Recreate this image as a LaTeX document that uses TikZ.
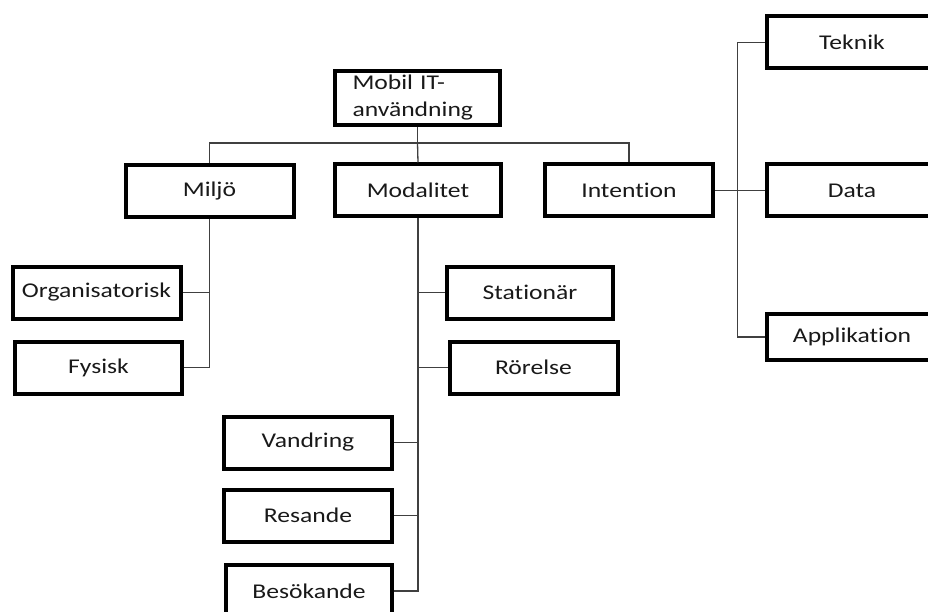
\documentclass[tikz,border=0pt]{standalone}
\usepackage{fontspec}
\setmainfont{Carlito}[FakeStretch=1.22, Ligatures=NoCommon]
\usepackage{tikz}
\usetikzlibrary{positioning}

\begin{document}
\begin{tikzpicture}[x=1pt,y=-1pt,
    box/.style={draw=black, line width=4pt, minimum width=168pt, minimum height=52pt,
      inner sep=0pt, text=black!90, font=\fontsize{21}{27}\selectfont},
    link/.style={draw=black!75, line width=1.3pt}]
  \useasboundingbox (0,0) rectangle (928,612);
  \clip (0,0) rectangle (928,612);
  % top level
  \node[box, minimum width=165pt, minimum height=54pt, align=left, text width=130pt] (mobil) at (417.5,98) {Mobil IT-\\användning};
  \node[box] (miljo) at (209.5,191) {Miljö};
  \node[box, minimum width=166pt] (modal) at (418,190.5) {Modalitet};
  \node[box] (intent) at (629,190.5) {Intention};
  % Miljö
  \node[box] (org) at (96.5,292.5) {Organisatorisk};
  \node[box, minimum width=167pt] (fysisk) at (98.5,367.5) {Fysisk};
  % Modalitet
  \node[box, minimum width=166pt] (station) at (530,292.5) {Stationär};
  \node[box] (rorelse) at (533.5,367.5) {Rörelse};
  \node[box] (vandring) at (308,442.5) {Vandring};
  \node[box] (resande) at (308,515.5) {Resande};
  \node[box, minimum width=166pt] (besok) at (309,591) {Besökande};
  % Intention
  \node[box, minimum width=171pt] (teknik) at (852,42.5) {Teknik};
  \node[box, minimum width=171pt] (data) at (852,190.5) {Data};
  \node[box, minimum width=171pt, minimum height=46pt] (appl) at (852,337) {Applikation};
  % connectors
  \coordinate (bus) at (mobil.south |- 0,143);
  \draw[link] (mobil.south) -- (bus);
  \draw[link] (miljo.north) |- (bus) -| (intent.north);
  \draw[link] (bus) -- (modal.north);
  \draw[link] (miljo.south) |- (fysisk.east);
  \draw[link] (org.east) -- (org.east -| miljo.south);
  \draw[link] (modal.south) |- (besok.east);
  \draw[link] (station.west) -- (station.west -| modal.south);
  \draw[link] (rorelse.west) -- (rorelse.west -| modal.south);
  \draw[link] (vandring.east) -- (vandring.east -| modal.south);
  \draw[link] (resande.east) -- (resande.east -| modal.south);
  \draw[link] (intent.east) -- (data.west);
  \coordinate (rail) at ([xshift=-27pt]teknik.west);
  \draw[link] (teknik.west) -- (rail) |- (appl.west);
\end{tikzpicture}
\end{document}
